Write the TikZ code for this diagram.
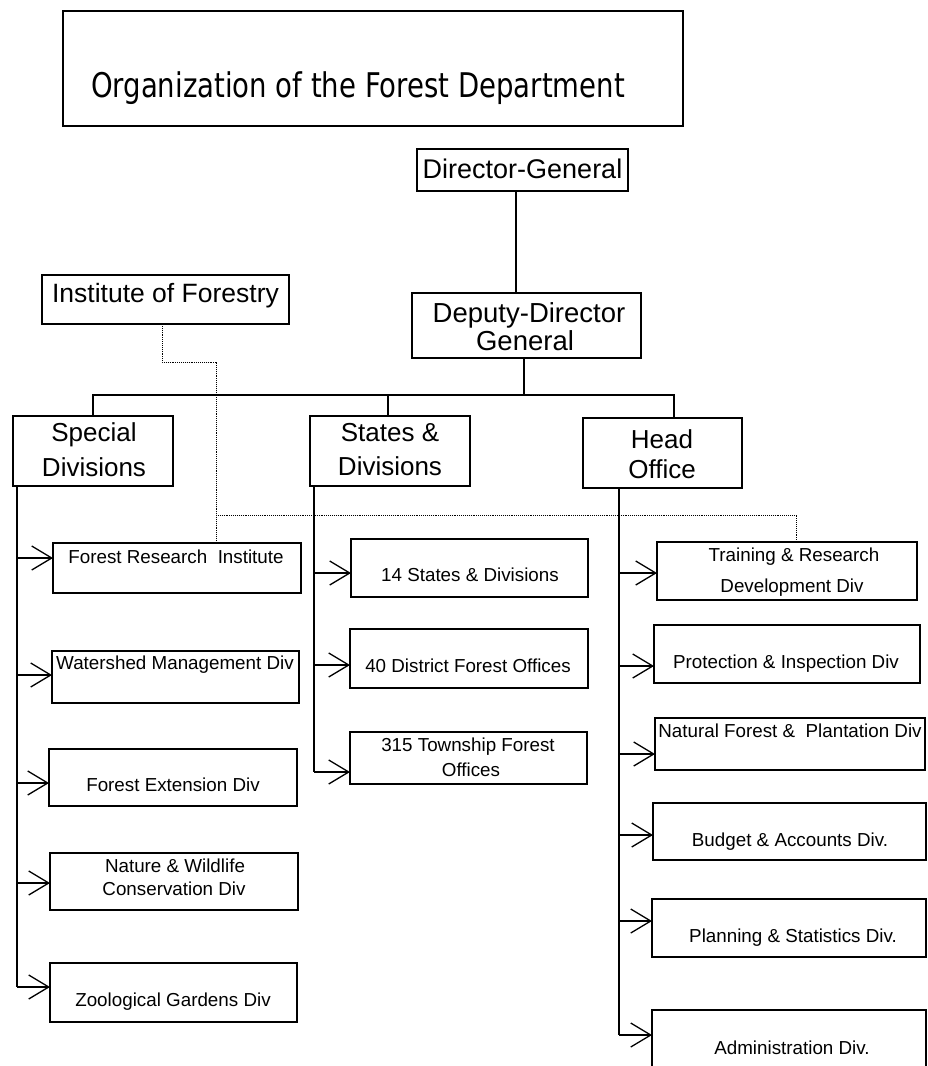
\documentclass[tikz,border=0pt]{standalone}
\usepackage{fontspec}
\setmainfont{Liberation Sans}
\newfontfamily\titlefont[FakeStretch=0.81]{DejaVu Sans}
\usetikzlibrary{arrows.meta}
\newcommand\bx[6][box]{\node[#1,minimum width={(#5-#3)*1pt},minimum height={(#6-#4)*1pt}] (#2) at ({(#3+#5)/2},{(#4+#6)/2}) {};}
\begin{document}
\begin{tikzpicture}[x=1pt,y=-1pt,
  box/.style={draw, line width=1.4pt, inner sep=0pt, outer sep=0pt, rectangle},
  tbox/.style={draw, line width=1.6pt, inner sep=0pt, outer sep=0pt, rectangle},
  txt/.style={anchor=base, inner sep=0pt, outer sep=0pt},
  big/.style={txt, font=\fontsize{26}{30}\selectfont},
  small/.style={txt, font=\fontsize{18.8}{22}\selectfont},
  conn/.style={line width=1.3pt},
  arr/.style={line width=1.3pt, -{Straight Barb[length=20pt,width=24pt,line width=1.3pt]}},
  dot/.style={line width=0.9pt, densely dotted}]
\clip (0,0) rectangle (928,1066);
\fill[white] (0,0) rectangle (928,1066);
% title
\bx[tbox]{title}{63}{11}{683}{126}
\node[txt, anchor=base west, font=\titlefont\fontsize{34}{40}\selectfont] (titletext) at (91,97) {Organization of the Forest Department};
% top boxes
\bx{dg}{417}{149}{628}{191}
\node[txt, font=\fontsize{27}{30}\selectfont] (dgt) at (522.5,178.7) {Director-General};
\bx{ddg}{412}{293}{641}{358}
\node[txt, font=\fontsize{27.5}{30}\selectfont] (ddgt1) at (529,322.7) {Deputy-Director};
\node[txt, font=\fontsize{27.5}{30}\selectfont] (ddgt2) at (525,350.7) {General};
\bx{inst}{42}{275}{289}{324}
\node[txt, font=\fontsize{26.5}{30}\selectfont] (instt) at (165.5,302.5) {Institute of Forestry};
% level 2
\bx{sd}{13}{416}{173}{486}
\node[big] (sdt1) at (94,441.3) {Special};
\node[big] (sdt2) at (94,476.3) {Divisions};
\bx{st}{310}{416}{470}{486}
\node[big] (stt1) at (390,441.3) {States \&};
\node[big] (stt2) at (390,475.3) {Divisions};
\bx{ho}{583}{418}{742}{488}
\node[big] (hot1) at (662,448.3) {Head};
\node[big] (hot2) at (662,478.3) {Office};
% special children
\bx{fri}{53}{543}{301}{593}
\node[small] (frit) at (176,563.7) {Forest Research\ \ Institute};
\bx{wmd}{52}{651}{299}{703}
\node[small] (wmdt) at (175,669.7) {Watershed Management Div};
\bx{fed}{49}{749}{297}{806}
\node[small] (fedt) at (173,791.7) {Forest Extension Div};
\bx{nwc}{50}{853}{298}{910}
\node[small] (nwct1) at (175,872.7) {Nature \& Wildlife};
\node[small] (nwct2) at (174,895.7) {Conservation Div};
\bx{zoo}{50}{963}{297}{1022}
\node[small] (zoot) at (173,1006.7) {Zoological Gardens Div};
% states children
\bx{s14}{351}{539}{588}{597}
\node[small] (s14t) at (470,581.7) {14 States \& Divisions};
\bx{d40}{350}{629}{588}{688}
\node[small] (d40t) at (468,672.7) {40 District Forest Offices};
\bx{t315}{350}{732}{587}{784}
\node[small] (t315t1) at (468,751.7) {315 Township Forest};
\node[small] (t315t2) at (471,776.7) {Offices};
% head office children
\bx{trd}{657}{542}{917}{600}
\node[small] (trdt1) at (794,561.7) {Training \& Research};
\node[small] (trdt2) at (792,592.7) {Development Div};
\bx{pid}{654}{625}{920}{683}
\node[small] (pidt) at (786,668.7) {Protection \& Inspection Div};
\bx{nfp}{655}{718}{925}{770}
\node[small] (nfpt) at (790,737.7) {Natural Forest \&\ \ Plantation Div};
\bx{bad}{653}{803}{926}{860}
\node[small] (badt) at (790,846.7) {Budget \& Accounts Div.};
\bx{psd}{652}{899}{926}{957}
\node[small] (psdt) at (793,942.7) {Planning \& Statistics Div.};
\bx{adm}{652}{1010}{926}{1090}
\node[small] (admt) at (792,1054.7) {Administration Div.};
% main connectors
\coordinate (busl) at (93,395);
\coordinate (busr) at (674,395);
\draw[conn] ([xshift=-6.5pt]dg.south) -- ([xshift=-6.5pt]dg.south |- ddg.north);
\draw[conn] ([xshift=-2.5pt]ddg.south) -- ([xshift=-2.5pt]ddg.south |- busl);
\draw[conn] (sd.north) |- (busr) -- (busr |- ho.north);
\draw[conn] ([xshift=-2pt]st.north) -- ([xshift=-2pt]st.north |- busl);
% dotted link
\draw[dot] (inst.south -| 162,0) -- (162,362) -- (216,362) -- (fri.north -| 216,0);
\draw[dot] (216,515) -| (trd.north -| 796,0);
% special trunk
\coordinate (sdv) at (17,486);
\draw[conn] (sdv) -- (sdv |- 0,987);
\draw[arr] (sdv |- 0,558) -- (fri.west |- 0,558);
\draw[arr] (sdv |- 0,675) -- (wmd.west |- 0,675);
\draw[arr] (sdv |- 0,783) -- (fed.west |- 0,783);
\draw[arr] (sdv |- 0,883) -- (nwc.west |- 0,883);
\draw[arr] (sdv |- 0,987) -- (zoo.west |- 0,987);
% states trunk
\coordinate (stv) at (314,486);
\draw[conn] (stv) -- (stv |- 0,772);
\draw[arr] (stv |- 0,573) -- (s14.west |- 0,573);
\draw[arr] (stv |- 0,665) -- (d40.west |- 0,665);
\draw[arr] (stv |- 0,772) -- (t315.west |- 0,772);
% head trunk
\coordinate (hov) at (619,488);
\draw[conn] (hov) -- (hov |- 0,1035);
\draw[arr] (hov |- 0,573) -- (trd.west |- 0,573);
\draw[arr] (hov |- 0,666) -- (pid.west |- 0,666);
\draw[arr] (hov |- 0,754) -- (nfp.west |- 0,754);
\draw[arr] (hov |- 0,835) -- (bad.west |- 0,835);
\draw[arr] (hov |- 0,921) -- (psd.west |- 0,921);
\draw[arr] (hov |- 0,1035) -- (adm.west |- 0,1035);
\end{tikzpicture}
\end{document}
